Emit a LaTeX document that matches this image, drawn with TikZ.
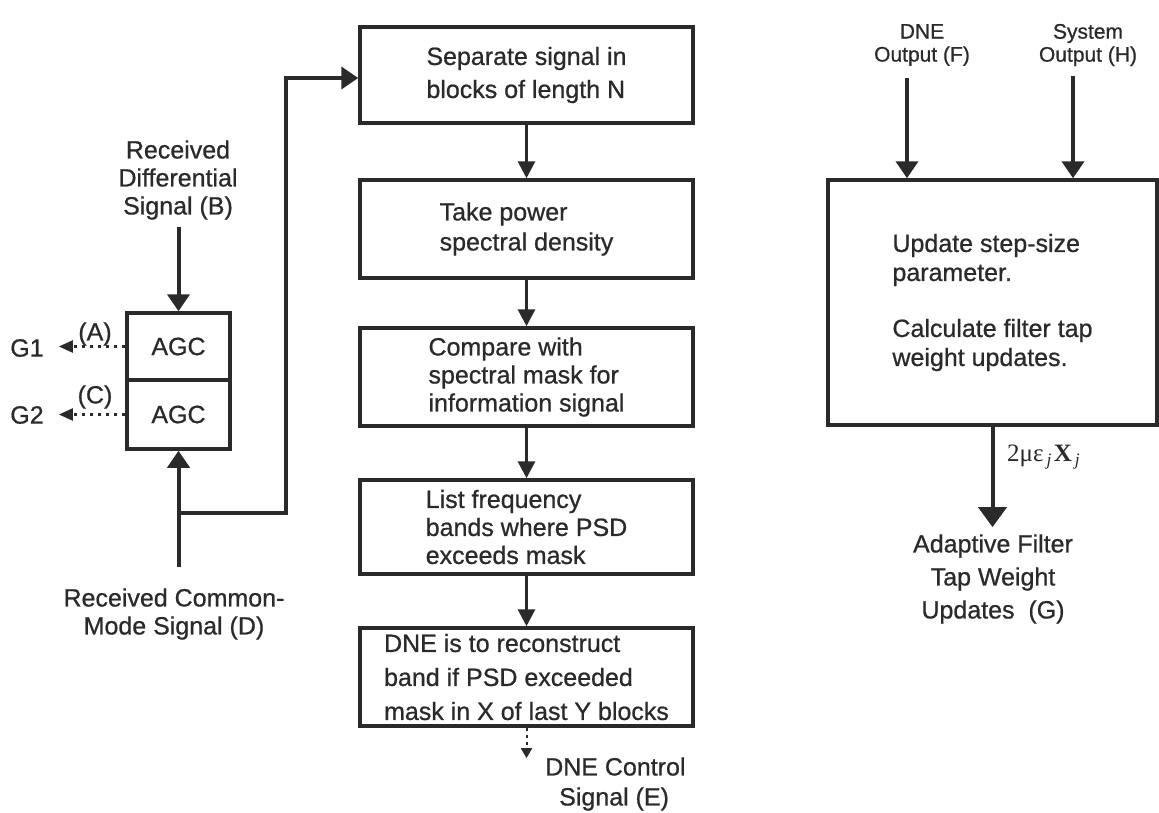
\RequirePackage{fix-cm}
\documentclass[tikz,border=0pt]{standalone}
\usepackage{fontspec}
\setmainfont{Liberation Sans}[FakeBold=0.7]
\newfontfamily\serifm{Liberation Serif}
\usetikzlibrary{arrows.meta}
\definecolor{ink}{HTML}{2A2A2A}
\begin{document}
\begin{tikzpicture}[x=1pt,y=-1pt,
  font=\fontsize{25}{29}\selectfont,
  box/.style={draw=ink, line width=3.5pt, align=left, inner sep=0pt, text=ink},
  lab/.style={align=center, inner sep=1pt, text=ink},
  sig/.style={draw=ink, line width=4pt, -{Triangle[length=17pt,width=22pt]}},
  flow/.style={draw=ink, line width=3pt, -{Triangle[length=17pt,width=17pt]}},
  dots/.style={draw=ink, line width=2.5pt, dash pattern=on 3pt off 5pt, -{Triangle[length=14pt,width=12pt]}},
  smalldots/.style={draw=ink, line width=2pt, dash pattern=on 3pt off 4pt, -{Triangle[length=10pt,width=11pt]}},
]
\fill[white] (0,0) rectangle (1159,812);
\useasboundingbox (0,0) rectangle (1159,812);

% central column
\node[box, minimum width=333pt, minimum height=96pt, font=\fontsize{25}{33}\selectfont] (b1) at (526.5,75) {Separate signal in\\blocks of length N};
\node[box, minimum width=333pt, minimum height=98pt, font=\fontsize{25}{30}\selectfont] (b2) at (526.5,229) {Take power\\spectral density};
\node[box, minimum width=333pt, minimum height=98pt, font=\fontsize{25}{28}\selectfont] (b3) at (526.5,377) {Compare with\\spectral mask for\\information signal};
\node[box, minimum width=333pt, minimum height=94pt, font=\fontsize{25}{28}\selectfont] (b4) at (526.5,527) {List frequency\\bands where PSD\\exceeds mask};
\node[box, minimum width=333pt, minimum height=98pt, font=\fontsize{25}{34}\selectfont] (b5) at (526.5,677) {DNE is to reconstruct\\band if PSD exceeded\\mask in X of last Y blocks};

\draw[flow] (b1) -- (b2);
\draw[flow] (b2) -- (b3);
\draw[flow] (b3) -- (b4);
\draw[flow] (b4) -- (b5);

\node[lab, align=left, anchor=west, font=\fontsize{25}{30}\selectfont] (labE) at (544,784) {DNE Control\\\hspace*{14pt}Signal (E)};
\draw[smalldots] (b5.south) -- ([yshift=-2pt]b5.south |- labE.north);

% AGC part
\node[box, align=center, minimum width=103pt, minimum height=67pt] (agc1) at (178.5,346.5) {AGC};
\node[box, align=center, minimum width=103pt, minimum height=69pt] (agc2) at (178.5,414.5) {AGC};

\node[lab, font=\fontsize{25}{28}\selectfont] (labB) at (178,180) {Received\\Differential\\Signal (B)};
\draw[sig, shorten <=6pt] (labB.south -| agc1.north) -- (agc1.north);

\node[lab, font=\fontsize{25}{28}\selectfont] (labD) at (174,614) {Received Common-\\Mode Signal (D)};
\draw[sig, shorten <=20pt] (labD.north -| agc2.south) -- (agc2.south);

\coordinate (jn) at (178.5,513);
\draw[sig] (jn) -- (286,513) -- (286,78) -- (b1.west |- 0,78);

\node[lab] (g1) at (27,348) {G1};
\node[lab] (g2) at (27,415) {G2};
\node[lab] (la) at (95,334) {(A)};
\node[lab] (lc) at (95,397) {(C)};
\draw[dots, shorten >=14pt] (agc1.west) -- (g1.east |- agc1.west);
\draw[dots, shorten >=14pt] (agc2.west) -- (g2.east |- agc2.west);

% right part
\node[box, minimum width=329pt, minimum height=245pt, font=\fontsize{25}{29}\selectfont] (big) at (992.5,302.5) {Update step-size\\parameter.\\[27pt]Calculate filter tap\\weight updates.};

\node[lab, font=\fontsize{21}{23}\selectfont] (labF) at (922,45) {DNE\\Output (F)};
\node[lab, font=\fontsize{21}{23}\selectfont] (labH) at (1088,45) {System\\Output (H)};
\coordinate (f0) at (907,78);
\coordinate (h0) at (1073,76);
\draw[sig] (f0) -- (f0 |- big.north);
\draw[sig] (h0) -- (h0 |- big.north);

\node[lab, font=\fontsize{25}{33}\selectfont] (labG) at (993,579) {Adaptive Filter\\Tap Weight\\Updates~~(G)};
\draw[draw=ink, line width=4pt, -{Triangle[length=20pt,width=28pt]}, shorten >=6pt] (big.south) -- (big.south |- labG.north);
\node[anchor=west, inner sep=0pt, text=ink] (mu) at (1007,457) {\fontsize{25}{27}\selectfont\serifm 2με\textsubscript{\itshape\,j}\kern2pt\textbf{X}\textsubscript{\itshape\,j}};
\end{tikzpicture}
\end{document}
